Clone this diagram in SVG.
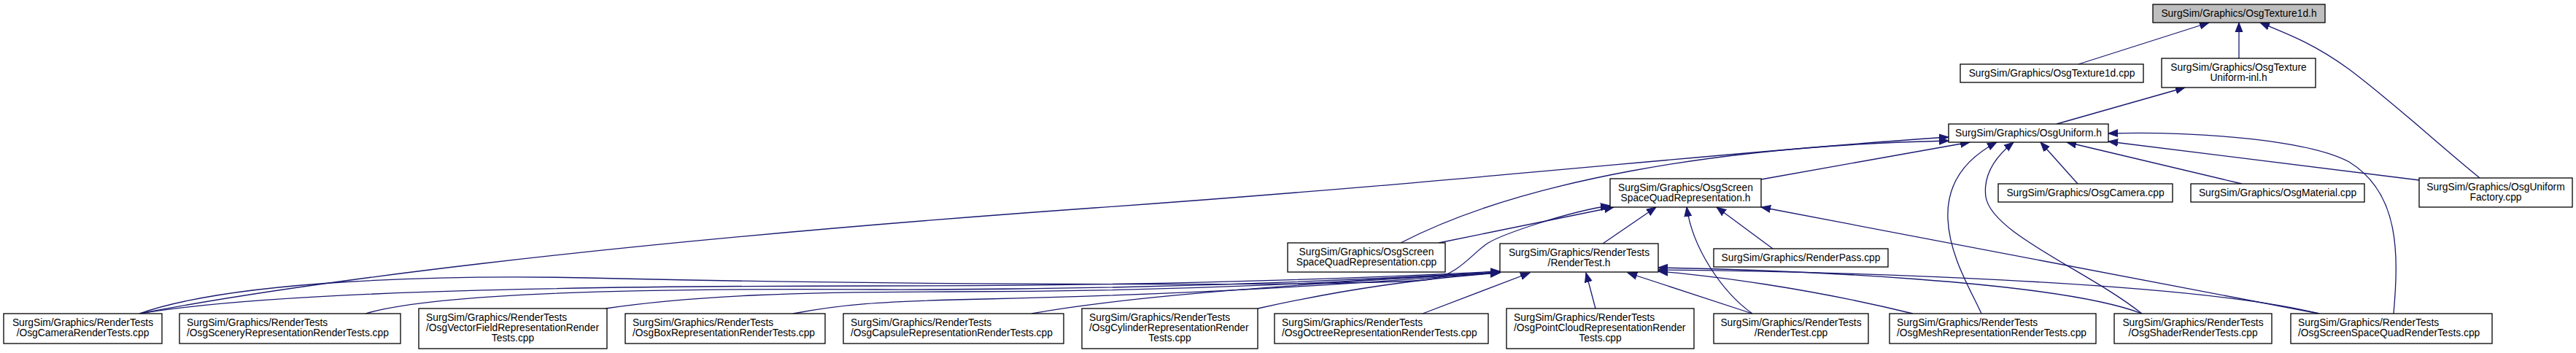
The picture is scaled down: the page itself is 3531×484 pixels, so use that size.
<svg xmlns="http://www.w3.org/2000/svg" width="3531" height="484" viewBox="0 0 3531 484">
<style>
.n rect{fill:#fff;stroke:#000;stroke-width:1.3}
.n.root rect{fill:#bfbfbf}
.n text{font-family:"Liberation Sans",Arial,sans-serif;font-size:13.8px;fill:#000}
.c{text-anchor:middle}
.e path{fill:none;stroke:#191970;stroke-width:1.3;marker-end:url(#ah)}
</style>
<defs>
<marker id="ah" markerUnits="userSpaceOnUse" markerWidth="14" markerHeight="12" viewBox="0 0 14 12" refX="13" refY="6" orient="auto">
<path d="M0,1 L13,6 L0,11 z" fill="#191970" stroke="#191970" stroke-width="1"/>
</marker>
</defs>
<rect width="3531" height="484" fill="#fff"/>
<g id="edges" class="e">
<path d="M2849,88 L3028,31"/>
<path d="M3069,80 L3069,31"/>
<path d="M3399,244 C3340,196 3280,140 3220,95 C3175,62 3140,48 3098,31"/>
<path d="M2819,170 L2995,120"/>
<path d="M2414,246 L2700,195"/>
<path d="M1920,333 C2080,250 2350,200 2671,193"/>
<path d="M191,430 C400,390 800,335 1500,285 C2000,250 2400,205 2671,188"/>
<path d="M2848,252 L2797,195"/>
<path d="M3073,252 L2833,195"/>
<path d="M3316,247 L2890,194"/>
<path d="M2716,430 C2700,395 2672,350 2670,300 C2668,255 2690,220 2737,195"/>
<path d="M2936,430 C2860,370 2730,320 2722,270 C2718,240 2735,215 2760,195"/>
<path d="M3281,430 C3288,350 3290,265 3220,222 C3160,190 3000,180 2890,183"/>
<path d="M1972,333 L2212,284"/>
<path d="M191,430 C320,385 600,375 850,382 C1300,392 1900,392 1960,383 C2000,377 2020,345 2040,333 C2060,321 2150,290 2207,282"/>
<path d="M2197,334 L2270,284"/>
<path d="M2402,430 C2360,400 2320,340 2312,284"/>
<path d="M2430,341 L2353,284"/>
<path d="M3179,430 L2414,284"/>
<path d="M191,430 C400,395 900,392 1200,392 C1600,392 1900,380 2056,372"/>
<path d="M501,430 C600,400 900,395 1200,397 C1600,398 1900,382 2056,373"/>
<path d="M830,423 C950,405 1100,400 1300,400 C1650,400 1900,383 2056,373"/>
<path d="M1087,430 C1150,418 1200,413 1350,410 C1700,402 1900,385 2056,374"/>
<path d="M1414,430 C1550,405 1800,388 2056,374"/>
<path d="M1724,423 C1850,395 1950,382 2056,374"/>
<path d="M1950,430 L2097,374"/>
<path d="M2187,423 L2174,374"/>
<path d="M2402,430 L2231,374"/>
<path d="M2622,430 C2480,395 2340,377 2273,372"/>
<path d="M2936,430 C2820,385 2450,370 2273,367"/>
<path d="M3179,430 C3000,385 2500,372 2273,370"/>
</g>
<g id="n_root" class="n root"><rect x="2951" y="6" width="236" height="25"/><text class="c" x="3069" y="23">SurgSim/Graphics/OsgTexture1d.h</text></g>
<g id="n_tex1dcpp" class="n"><rect x="2687" y="88" width="251" height="25"/><text class="c" x="2812.5" y="105">SurgSim/Graphics/OsgTexture1d.cpp</text></g>
<g id="n_inl" class="n"><rect x="2963" y="80" width="211" height="40"/><text class="c" x="3068.5" y="97">SurgSim/Graphics/OsgTexture</text><text class="c" x="3068.5" y="111">Uniform-inl.h</text></g>
<g id="n_uniform" class="n"><rect x="2671" y="170" width="219" height="25"/><text class="c" x="2780.5" y="187">SurgSim/Graphics/OsgUniform.h</text></g>
<g id="n_ssqrh" class="n"><rect x="2207" y="245" width="207" height="39"/><text class="c" x="2310.5" y="262">SurgSim/Graphics/OsgScreen</text><text class="c" x="2310.5" y="276">SpaceQuadRepresentation.h</text></g>
<g id="n_camera" class="n"><rect x="2739" y="252" width="239" height="25"/><text class="c" x="2858.5" y="269">SurgSim/Graphics/OsgCamera.cpp</text></g>
<g id="n_material" class="n"><rect x="3003" y="252" width="238" height="25"/><text class="c" x="3122" y="269">SurgSim/Graphics/OsgMaterial.cpp</text></g>
<g id="n_factory" class="n"><rect x="3316" y="244" width="210" height="40"/><text class="c" x="3421" y="261">SurgSim/Graphics/OsgUniform</text><text class="c" x="3421" y="275">Factory.cpp</text></g>
<g id="n_ssqrcpp" class="n"><rect x="1765" y="333" width="216" height="40"/><text class="c" x="1873" y="350">SurgSim/Graphics/OsgScreen</text><text class="c" x="1873" y="364">SpaceQuadRepresentation.cpp</text></g>
<g id="n_rendertesth" class="n"><rect x="2056" y="334" width="217" height="39"/><text class="c" x="2164.5" y="351">SurgSim/Graphics/RenderTests</text><text class="c" x="2164.5" y="365">/RenderTest.h</text></g>
<g id="n_renderpass" class="n"><rect x="2349" y="341" width="239" height="25"/><text class="c" x="2468.5" y="358">SurgSim/Graphics/RenderPass.cpp</text></g>
<g id="n_camerart" class="n"><rect x="5" y="430" width="217" height="41"/><text class="c" x="113.5" y="447">SurgSim/Graphics/RenderTests</text><text class="c" x="113.5" y="461">/OsgCameraRenderTests.cpp</text></g>
<g id="n_scenery" class="n"><rect x="246" y="430" width="303" height="41"/><text x="256" y="447">SurgSim/Graphics/RenderTests</text><text x="256" y="461">/OsgSceneryRepresentationRenderTests.cpp</text></g>
<g id="n_vectorfield" class="n"><rect x="574" y="423" width="258" height="55"/><text x="584" y="439.5">SurgSim/Graphics/RenderTests</text><text x="584" y="453.5">/OsgVectorFieldRepresentationRender</text><text class="c" x="703" y="467.5">Tests.cpp</text></g>
<g id="n_box" class="n"><rect x="857" y="430" width="274" height="41"/><text x="867" y="447">SurgSim/Graphics/RenderTests</text><text x="867" y="461">/OsgBoxRepresentationRenderTests.cpp</text></g>
<g id="n_capsule" class="n"><rect x="1156" y="430" width="302" height="41"/><text x="1166" y="447">SurgSim/Graphics/RenderTests</text><text x="1166" y="461">/OsgCapsuleRepresentationRenderTests.cpp</text></g>
<g id="n_cylinder" class="n"><rect x="1483" y="423" width="241" height="55"/><text x="1493" y="439.5">SurgSim/Graphics/RenderTests</text><text x="1493" y="453.5">/OsgCylinderRepresentationRender</text><text class="c" x="1603.5" y="467.5">Tests.cpp</text></g>
<g id="n_octree" class="n"><rect x="1747" y="430" width="293" height="41"/><text x="1757" y="447">SurgSim/Graphics/RenderTests</text><text x="1757" y="461">/OsgOctreeRepresentationRenderTests.cpp</text></g>
<g id="n_pointcloud" class="n"><rect x="2065" y="423" width="257" height="55"/><text x="2075" y="439.5">SurgSim/Graphics/RenderTests</text><text x="2075" y="453.5">/OsgPointCloudRepresentationRender</text><text class="c" x="2193.5" y="467.5">Tests.cpp</text></g>
<g id="n_rendertestcpp" class="n"><rect x="2349" y="430" width="212" height="41"/><text class="c" x="2455" y="447">SurgSim/Graphics/RenderTests</text><text class="c" x="2455" y="461">/RenderTest.cpp</text></g>
<g id="n_mesh" class="n"><rect x="2590" y="430" width="283" height="41"/><text x="2600" y="447">SurgSim/Graphics/RenderTests</text><text x="2600" y="461">/OsgMeshRepresentationRenderTests.cpp</text></g>
<g id="n_shader" class="n"><rect x="2898" y="430" width="216" height="41"/><text class="c" x="3006" y="447">SurgSim/Graphics/RenderTests</text><text class="c" x="3006" y="461">/OsgShaderRenderTests.cpp</text></g>
<g id="n_ssqrt" class="n"><rect x="3140" y="430" width="276" height="41"/><text x="3150" y="447">SurgSim/Graphics/RenderTests</text><text x="3150" y="461">/OsgScreenSpaceQuadRenderTests.cpp</text></g>
</svg>
